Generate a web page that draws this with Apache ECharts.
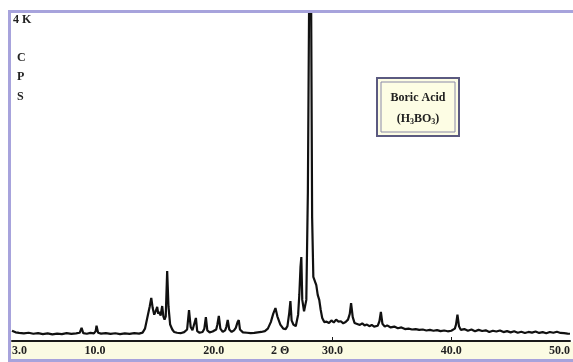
<!DOCTYPE html>
<html>
<head>
<meta charset="utf-8">
<script src="https://cdn.jsdelivr.net/npm/echarts@6/dist/echarts.min.js"></script>
<style>
	html, body { margin: 0; padding: 0; background: #ffffff; }
	#chart { width: 573px; height: 362px; }
</style>
</head>
<body>
<div id="chart"></div>
<script>
// 2 theta (deg)
var twoTheta = [
	3.0, 3.3, 3.6, 4.0, 4.4, 4.8, 5.2, 5.6, 6.0, 6.4, 6.8, 7.2, 7.6, 8.0, 8.4, 8.7, 8.86, 9.0, 9.3, 9.6,
	9.9, 10.05, 10.12, 10.25, 10.5, 10.9, 11.3, 11.7, 12.1, 12.5, 12.9, 13.3, 13.7, 14.0, 14.2, 14.45, 14.6, 14.73, 14.85, 14.98,
	15.1, 15.23, 15.32, 15.4, 15.52, 15.65, 15.75, 15.85, 15.95, 16.07, 16.18, 16.32, 16.5, 16.65, 16.9, 17.2, 17.5, 17.75, 17.91, 18.05,
	18.2, 18.35, 18.49, 18.6, 18.8, 19.05, 19.2, 19.33, 19.45, 19.65, 19.9, 20.2, 20.3, 20.42, 20.55, 20.75, 20.95, 21.05, 21.17, 21.3,
	21.5, 21.7, 21.85, 22.0, 22.1, 22.2, 22.45, 22.8, 23.1, 23.4, 23.7, 24.0, 24.3, 24.55, 24.8, 25.0, 25.19, 25.35, 25.6, 25.85,
	26.05, 26.2, 26.35, 26.45, 26.55, 26.7, 26.9, 27.0, 27.1, 27.2, 27.3, 27.37, 27.45, 27.6, 27.79, 27.92, 28.02, 28.2, 28.28, 28.38,
	28.5, 28.63, 28.75, 28.88, 29.0, 29.13, 29.3, 29.5, 29.7, 29.9, 30.1, 30.3, 30.5, 30.7, 30.9, 31.1, 31.3, 31.45, 31.56, 31.7,
	31.85, 32.0, 32.3, 32.5, 32.7, 32.9, 33.1, 33.3, 33.5, 33.8, 33.95, 34.07, 34.2, 34.4, 34.6, 34.9, 35.2, 35.5, 35.8, 36.1,
	36.4, 36.7, 37.0, 37.3, 37.6, 37.9, 38.2, 38.5, 38.8, 39.1, 39.4, 39.7, 40.0, 40.3, 40.4, 40.52, 40.65, 40.8, 41.1, 41.4,
	41.7, 42.0, 42.3, 42.6, 42.9, 43.2, 43.5, 43.8, 44.1, 44.4, 44.7, 45.0, 45.3, 45.6, 45.9, 46.2, 46.5, 46.8, 47.1, 47.4,
	47.7, 48.0, 48.3, 48.6, 48.9, 49.2, 49.5, 49.8, 50.0
];
// counts per second
var cps = [
	125, 105, 98, 92, 100, 88, 95, 84, 92, 80, 90, 84, 95, 86, 92, 100, 160, 96, 88, 98,
	92, 120, 185, 100, 90, 96, 86, 94, 84, 92, 86, 95, 90, 102, 150, 320, 420, 525, 400, 320,
	360, 415, 330, 355, 310, 425, 300, 260, 300, 850, 420, 200, 140, 110, 100, 95, 108, 140, 375, 170,
	130, 150, 280, 120, 100, 110, 150, 290, 130, 105, 115, 140, 200, 305, 150, 110, 130, 170, 255, 140,
	110, 130, 160, 230, 255, 140, 105, 100, 95, 98, 105, 110, 120, 150, 230, 330, 400, 300, 200, 150,
	145, 180, 340, 485, 250, 200, 180, 200, 320, 560, 900, 1020, 500, 360, 500, 1800, 4000, 4000, 1500, 780,
	760, 680, 560, 500, 380, 280, 230, 235, 220, 250, 225, 260, 235, 240, 215, 230, 260, 330, 460, 290,
	220, 210, 195, 215, 190, 200, 180, 195, 175, 185, 240, 355, 210, 175, 190, 165, 175, 155, 165, 145,
	150, 140, 145, 135, 140, 128, 135, 125, 132, 120, 128, 118, 125, 150, 200, 320, 180, 135, 145, 125,
	140, 118, 135, 122, 130, 110, 125, 115, 128, 108, 120, 105, 118, 100, 112, 98, 110, 102, 115, 98,
	108, 95, 110, 100, 112, 98, 95, 90, 88
];
// x축 라벨
var xTickValues = [3, 10, 20, 30, 40, 50];

function chart_xrd(location) {
	var chartLocationInit = echarts.init(document.getElementById(location));

	// 데이터 핸들러
	var seriesData = new Array();
	for (var i = 0; i < twoTheta.length; i++) {
		seriesData.push([twoTheta[i], cps[i]]);
	}

	var serif = '"Liberation Serif", "DejaVu Serif", serif';
	var frameColor = '#a7a3dc';

	var option = {
		animation: false,
		backgroundColor: '#ffffff',
		grid: {
			left: 12,
			right: 0,
			top: 12,
			bottom: 21
		},
		xAxis: {
			type: 'value',
			min: 3,
			max: 50,
			axisLine: {
				onZero: false,
				lineStyle: { color: '#1a1a1a', width: 2 }
			},
			axisTick: {
				show: true,
				inside: true,
				length: 4,
				customValues: [30, 40],
				lineStyle: { color: '#1a1a1a', width: 1 }
			},
			axisLabel: {
				customValues: xTickValues,
				margin: 4,
				alignMinLabel: 'left',
				alignMaxLabel: 'right',
				color: '#222222',
				fontFamily: serif,
				fontWeight: 'bold',
				fontSize: 12,
				formatter: function (v) { return v.toFixed(1); }
			},
			splitLine: { show: false }
		},
		yAxis: {
			type: 'value',
			min: 0,
			max: 4000,
			show: false
		},
		graphic: [
			// 하단 노란 띠
			{ type: 'rect', z: -10, shape: { x: 10, y: 342, width: 563, height: 17 }, style: { fill: '#fbfbe3' } },
			// 테두리
			{ type: 'rect', z: 10, shape: { x: 8, y: 10, width: 565, height: 3 }, style: { fill: frameColor } },
			{ type: 'rect', z: 10, shape: { x: 8, y: 10, width: 3, height: 352 }, style: { fill: frameColor } },
			{ type: 'rect', z: 10, shape: { x: 8, y: 359, width: 565, height: 3 }, style: { fill: frameColor } },
			// y축 표시
			{ type: 'text', z: 20, left: 13, top: 14, style: { text: '4 K', fill: '#222', font: 'bold 12px ' + serif } },
			{ type: 'text', z: 20, left: 17, top: 52, style: { text: 'C', fill: '#222', font: 'bold 12px ' + serif } },
			{ type: 'text', z: 20, left: 17, top: 71, style: { text: 'P', fill: '#222', font: 'bold 12px ' + serif } },
			{ type: 'text', z: 20, left: 17, top: 91, style: { text: 'S', fill: '#222', font: 'bold 12px ' + serif } },
			// x축 이름
			{ type: 'text', z: 20, left: 271, top: 345, style: { text: '2 Θ', fill: '#222', font: 'bold 12px ' + serif } },
			// 범례 박스
			{ type: 'rect', z: 20, shape: { x: 377, y: 78, width: 82, height: 58 }, style: { fill: '#fdfde4', stroke: '#5b5a80', lineWidth: 2 } },
			{ type: 'rect', z: 21, shape: { x: 381, y: 82, width: 74, height: 50 }, style: { fill: 'none', stroke: '#8a89a8', lineWidth: 1 } },
			{
				type: 'text', z: 22, x: 418, y: 98,
				style: { text: 'Boric Acid', fill: '#222', font: 'bold 12px ' + serif, align: 'center', verticalAlign: 'middle' }
			},
			{
				type: 'text', z: 22, x: 418, y: 119,
				style: {
					text: '(H{sub|3}BO{sub|3})',
					fill: '#222',
					font: 'bold 12px ' + serif,
					align: 'center',
					verticalAlign: 'middle',
					rich: {
						sub: { fontSize: 8, fontWeight: 'bold', fontFamily: serif, fill: '#222', padding: [6, 0, 0, 0] }
					}
				}
			}
		],
		series: [{
			type: 'line',
			data: seriesData,
			showSymbol: false,
			clip: true,
			lineStyle: { color: '#111111', width: 2.2 },
			z: 5
		}]
	};

	chartLocationInit.setOption(option);
}

chart_xrd('chart');
</script>
</body>
</html>
